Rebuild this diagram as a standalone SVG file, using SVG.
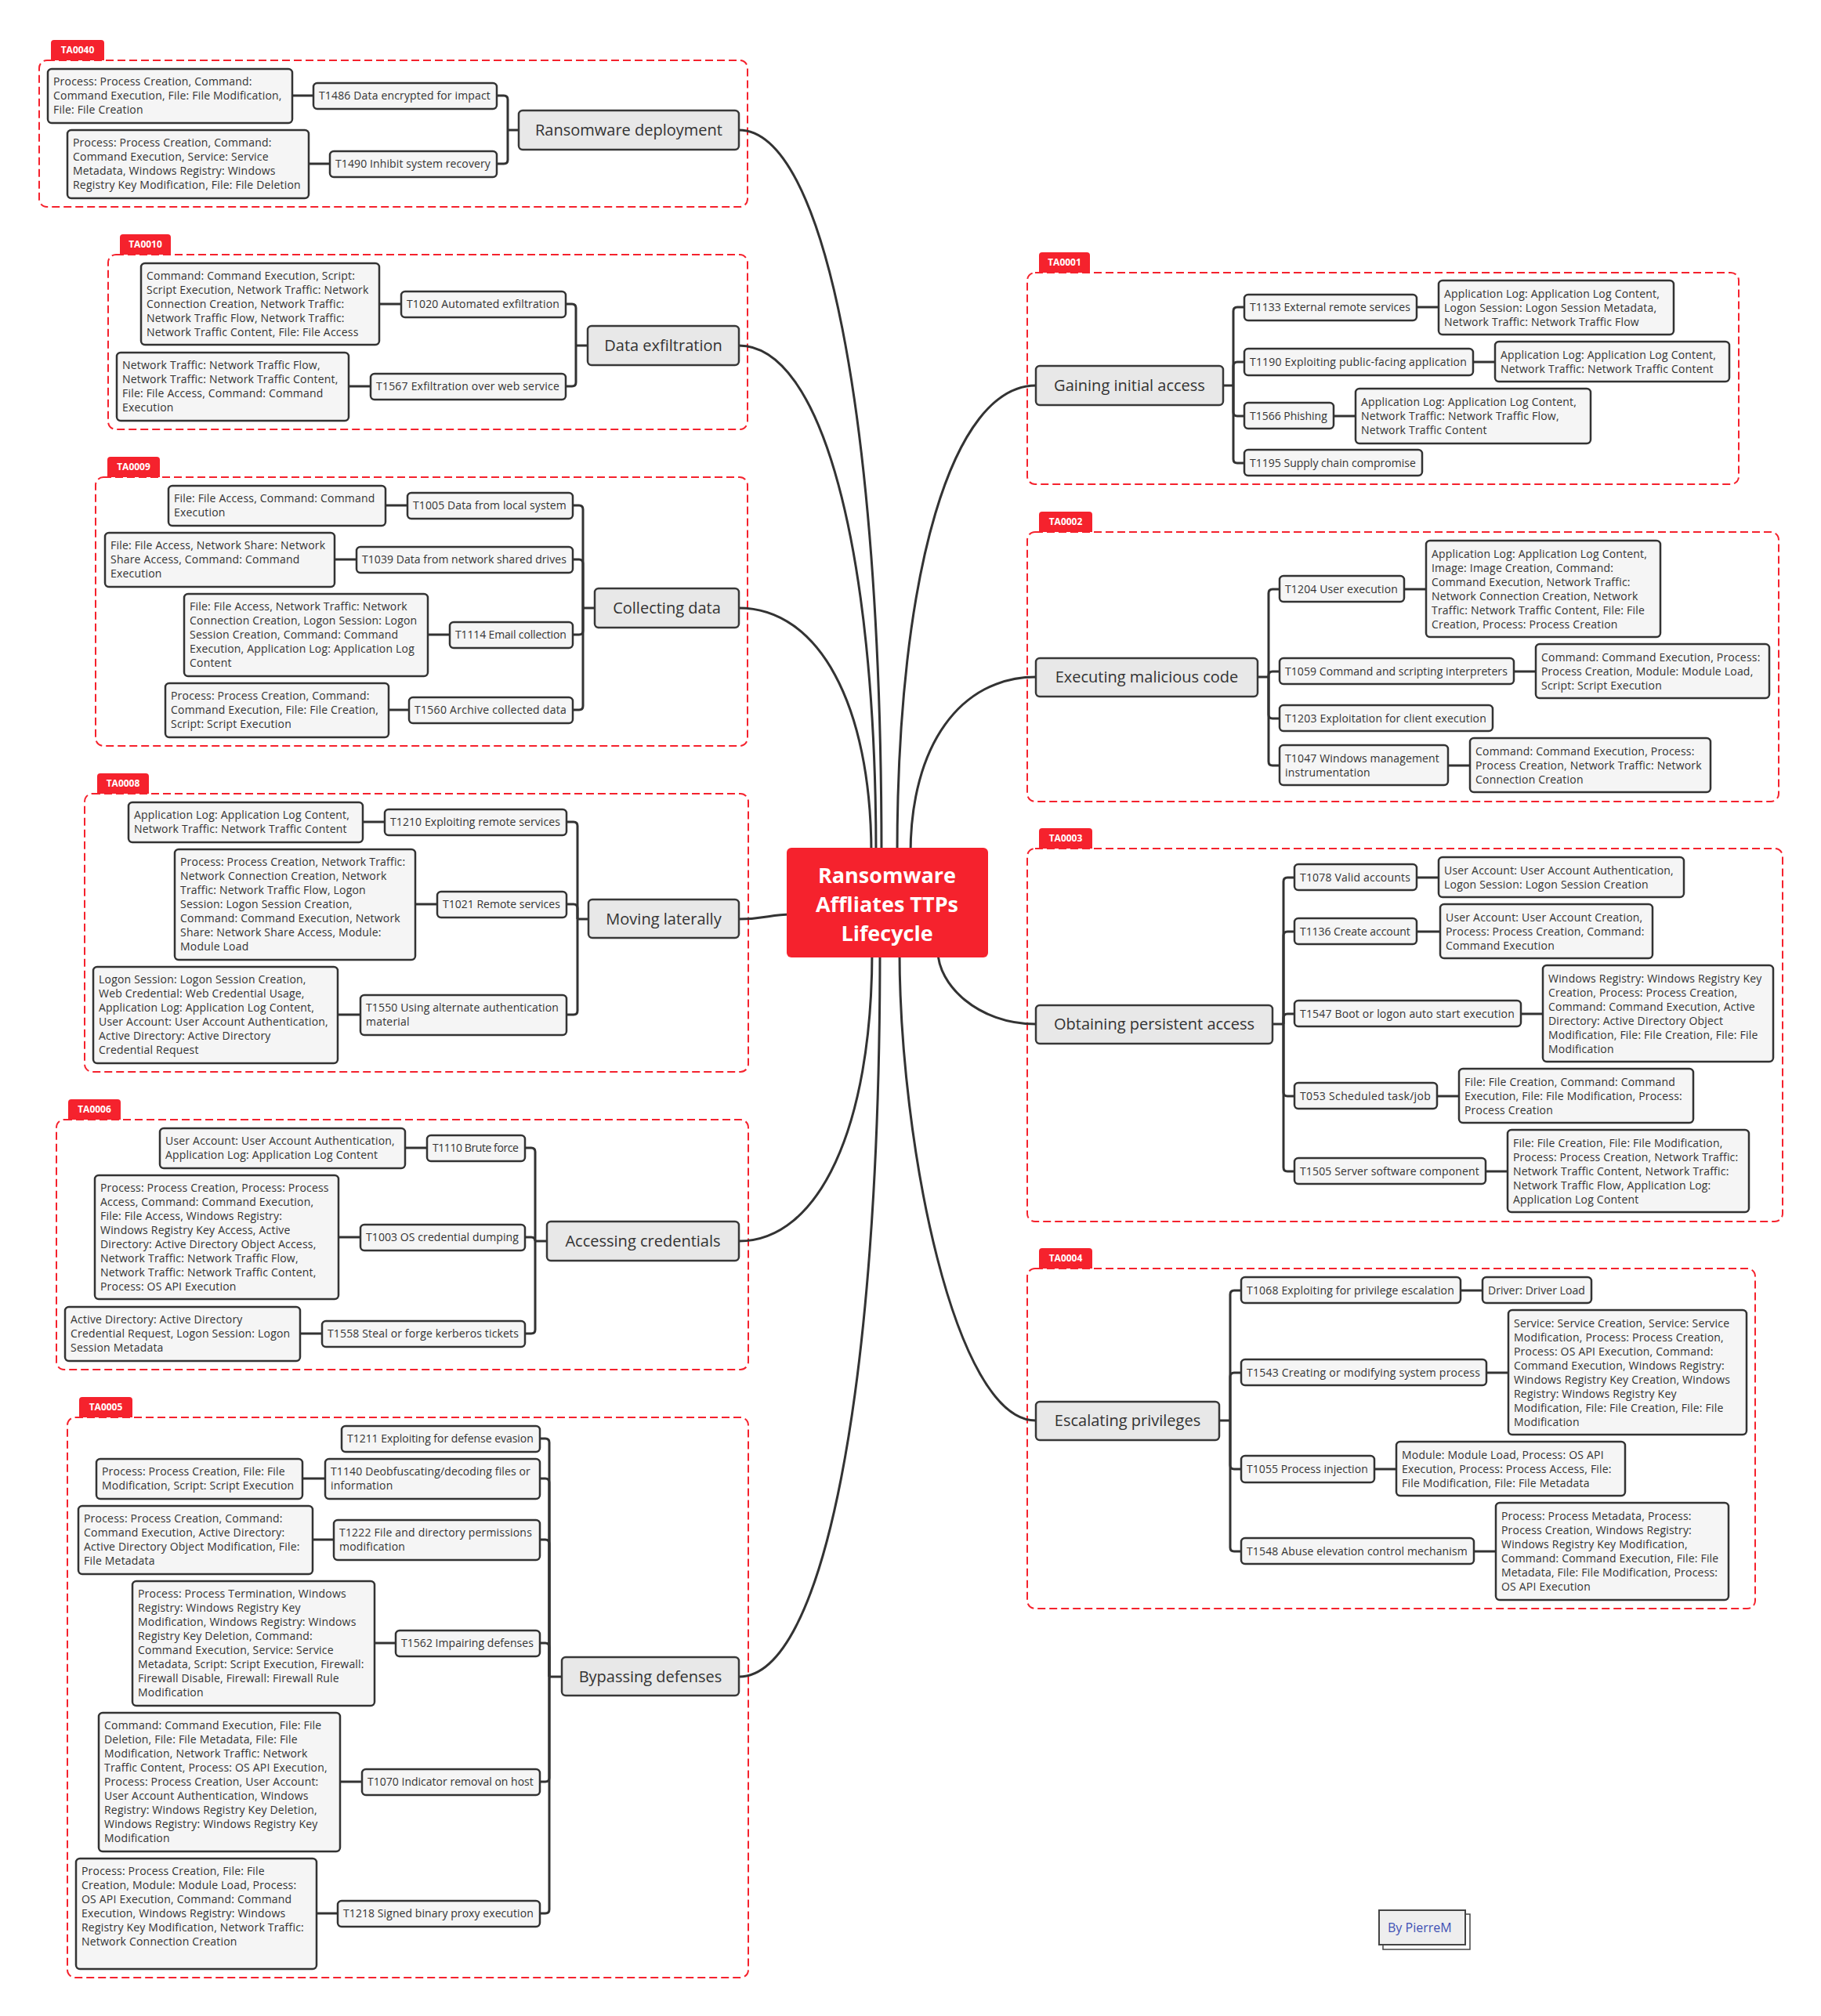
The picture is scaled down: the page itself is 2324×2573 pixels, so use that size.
<svg xmlns="http://www.w3.org/2000/svg" width="2324" height="2573" viewBox="0 0 2324 2573">
<style>
text{font-family:"Open Sans","Liberation Sans",sans-serif;fill:#333}
.frame{fill:none;stroke:#F5222D;stroke-width:2;stroke-dasharray:10 5}
.tag path{fill:#F5222D}
.tag text{font-size:12px;font-weight:700;fill:#fff;text-anchor:middle}
.topic rect{fill:#E8E8E8;stroke:#383838;stroke-width:2.5}
.topic text{font-size:20px;text-anchor:middle}
.box rect{fill:#F5F5F5;stroke:#333;stroke-width:2.5}
.box text{font-size:14px;letter-spacing:0.2px}
#connectors path{fill:none;stroke:#333;stroke-width:3}
#center rect{fill:#F5222D}
#center text{font-size:27px;font-weight:700;fill:#fff;text-anchor:middle}
</style>
<rect width="2324" height="2573" fill="#fff"/>

<g id="frames">
<rect class="frame" x="50" y="77" width="904" height="187" rx="10"/>
<rect class="frame" x="138" y="325" width="816" height="223" rx="10"/>
<rect class="frame" x="122" y="609" width="832" height="343" rx="10"/>
<rect class="frame" x="108" y="1013" width="847" height="355" rx="10"/>
<rect class="frame" x="72" y="1429" width="883" height="319" rx="10"/>
<rect class="frame" x="86" y="1809" width="869" height="715" rx="10"/>
<rect class="frame" x="1311" y="348" width="908" height="270" rx="10"/>
<rect class="frame" x="1311" y="679" width="959" height="344" rx="10"/>
<rect class="frame" x="1311" y="1083" width="964" height="476" rx="10"/>
<rect class="frame" x="1311" y="1619" width="929" height="434" rx="10"/>
</g>
<g id="tag-TA0040" class="tag"><path d="M65,77V55Q65,51 69,51H129Q133,51 133,55V77Z"/><text x="99" y="68">TA0040</text></g>
<g id="tag-TA0010" class="tag"><path d="M153,325V303Q153,299 157,299H214Q218,299 218,303V325Z"/><text x="185.5" y="316">TA0010</text></g>
<g id="tag-TA0009" class="tag"><path d="M137,609V587Q137,583 141,583H200Q204,583 204,587V609Z"/><text x="170.5" y="600">TA0009</text></g>
<g id="tag-TA0008" class="tag"><path d="M124,1013V991Q124,987 128,987H186Q190,987 190,991V1013Z"/><text x="157" y="1004">TA0008</text></g>
<g id="tag-TA0006" class="tag"><path d="M87,1429V1407Q87,1403 91,1403H150Q154,1403 154,1407V1429Z"/><text x="120.5" y="1420">TA0006</text></g>
<g id="tag-TA0005" class="tag"><path d="M101,1809V1787Q101,1783 105,1783H165Q169,1783 169,1787V1809Z"/><text x="135" y="1800">TA0005</text></g>
<g id="tag-TA0001" class="tag"><path d="M1326,348V326Q1326,322 1330,322H1387Q1391,322 1391,326V348Z"/><text x="1358.5" y="339">TA0001</text></g>
<g id="tag-TA0002" class="tag"><path d="M1326,679V657Q1326,653 1330,653H1390Q1394,653 1394,657V679Z"/><text x="1360" y="670">TA0002</text></g>
<g id="tag-TA0003" class="tag"><path d="M1326,1083V1061Q1326,1057 1330,1057H1390Q1394,1057 1394,1061V1083Z"/><text x="1360" y="1074">TA0003</text></g>
<g id="tag-TA0004" class="tag"><path d="M1326,1619V1597Q1326,1593 1330,1593H1390Q1394,1593 1394,1597V1619Z"/><text x="1360" y="1610">TA0004</text></g>

<g id="connectors">
<path d="M943,166C1052,166 1125,532 1125,1090"/>
<path d="M943,441C1048,441 1118,697 1118,1090"/>
<path d="M943,776C1044,776 1112,898 1112,1090"/>
<path d="M943,1173C978,1173 982,1167 1010,1167"/>
<path d="M943,1584C1045,1584 1113,1439 1113,1214"/>
<path d="M943,2140C1051,2140 1123,1773 1123,1214"/>
<path d="M1322,492C1216,492 1145,728 1145,1090"/>
<path d="M1322,864C1226,864 1162,951 1162,1090"/>
<path d="M1322,1307C1247,1307 1197,1256 1197,1214"/>
<path d="M1322,1813C1218,1813 1148,1458 1148,1214"/>
<path d="M634,122H643Q648,122 648,127V166"/>
<path d="M634,209H643Q648,209 648,204V166"/>
<path d="M648,166H662"/>
<path d="M373,122H400"/><path d="M394,209H421"/>
<path d="M722,388H730Q735,388 735,393V441"/>
<path d="M722,493H730Q735,493 735,488V441"/>
<path d="M735,441H750"/>
<path d="M484,388H512"/><path d="M445,493H473"/>
<path d="M731,645H739Q744,645 744,650V776"/>
<path d="M731,714H739Q744,714 744,719V776"/>
<path d="M731,810H739Q744,810 744,805V776"/>
<path d="M731,906H739Q744,906 744,901V776"/>
<path d="M744,776H759"/>
<path d="M492,645H520"/><path d="M427,714H455"/><path d="M546,810H574"/><path d="M496,906H522"/>
<path d="M723,1049H732Q737,1049 737,1054V1173"/>
<path d="M723,1154H732Q737,1154 737,1159V1173"/>
<path d="M723,1295H732Q737,1295 737,1290V1173"/>
<path d="M737,1173H751"/>
<path d="M463,1049H491"/><path d="M530,1154H558"/><path d="M431,1295H460"/>
<path d="M670,1465H678Q683,1465 683,1470V1584"/>
<path d="M670,1579H678Q683,1579 683,1584"/>
<path d="M670,1702H678Q683,1702 683,1697V1584"/>
<path d="M683,1584H698"/>
<path d="M517,1465H545"/><path d="M432,1579H460"/><path d="M383,1702H411"/>
<path d="M689,1836H696Q701,1836 701,1841V2140"/>
<path d="M689,1887H696Q701,1887 701,1892V2140"/>
<path d="M689,1965H696Q701,1965 701,1970V2140"/>
<path d="M689,2097H696Q701,2097 701,2102V2140"/>
<path d="M689,2274H696Q701,2274 701,2269V2140"/>
<path d="M689,2442H696Q701,2442 701,2437V2140"/>
<path d="M701,2140H717"/>
<path d="M386,1887H415"/><path d="M399,1965H426"/><path d="M478,2097H505"/><path d="M434,2274H462"/><path d="M404,2442H431"/>
<path d="M1561,492H1574"/>
<path d="M1588,392H1579Q1574,392 1574,397V492"/>
<path d="M1588,462H1579Q1574,462 1574,467V492"/>
<path d="M1588,531H1579Q1574,531 1574,526V492"/>
<path d="M1588,591H1579Q1574,591 1574,586V492"/>
<path d="M1808,392H1836"/><path d="M1880,462H1908"/><path d="M1702,531H1730"/>
<path d="M1605,864H1619"/>
<path d="M1633,752H1624Q1619,752 1619,757V864"/>
<path d="M1633,857H1624Q1619,857 1619,862V864"/>
<path d="M1633,917H1624Q1619,917 1619,912V864"/>
<path d="M1633,977H1624Q1619,977 1619,972V864"/>
<path d="M1792,752H1820"/><path d="M1932,857H1960"/><path d="M1848,977H1876"/>
<path d="M1624,1307H1638"/>
<path d="M1652,1120H1643Q1638,1120 1638,1125V1307"/>
<path d="M1652,1189H1643Q1638,1189 1638,1194V1307"/>
<path d="M1652,1294H1643Q1638,1294 1638,1299V1307"/>
<path d="M1652,1399H1643Q1638,1399 1638,1394V1307"/>
<path d="M1652,1495H1643Q1638,1495 1638,1490V1307"/>
<path d="M1808,1120H1836"/><path d="M1808,1189H1838"/><path d="M1941,1294H1969"/><path d="M1834,1399H1862"/><path d="M1896,1495H1924"/>
<path d="M1556,1813H1570"/>
<path d="M1584,1647H1575Q1570,1647 1570,1652V1813"/>
<path d="M1584,1752H1575Q1570,1752 1570,1757V1813"/>
<path d="M1584,1875H1575Q1570,1875 1570,1870V1813"/>
<path d="M1584,1980H1575Q1570,1980 1570,1975V1813"/>
<path d="M1864,1647H1892"/><path d="M1897,1752H1925"/><path d="M1754,1875H1782"/><path d="M1881,1980H1909"/>
</g>

<g id="center"><rect x="1004" y="1082" width="257" height="140" rx="6"/>
<text x="1132" y="1127">Ransomware</text><text x="1132" y="1164">Affliates TTPs</text><text x="1132" y="1201">Lifecycle</text></g>

<g id="topic-ransomware" class="topic"><rect x="662" y="141" width="281" height="50" rx="5"/><text x="802.5" y="173">Ransomware deployment</text></g>
<g id="topic-exfiltration" class="topic"><rect x="750" y="416" width="193" height="50" rx="5"/><text x="846.5" y="448">Data exfiltration</text></g>
<g id="topic-collecting" class="topic"><rect x="759" y="751" width="184" height="50" rx="5"/><text x="851" y="783">Collecting data</text></g>
<g id="topic-lateral" class="topic"><rect x="751" y="1148" width="192" height="49" rx="5"/><text x="847" y="1180">Moving laterally</text></g>
<g id="topic-credentials" class="topic"><rect x="698" y="1559" width="245" height="50" rx="5"/><text x="820.5" y="1591">Accessing credentials</text></g>
<g id="topic-defenses" class="topic"><rect x="717" y="2115" width="226" height="49" rx="5"/><text x="830" y="2147">Bypassing defenses</text></g>
<g id="topic-initial" class="topic"><rect x="1322" y="467" width="239" height="50" rx="5"/><text x="1441.5" y="499">Gaining initial access</text></g>
<g id="topic-executing" class="topic"><rect x="1322" y="840" width="283" height="49" rx="5"/><text x="1463.5" y="871">Executing malicious code</text></g>
<g id="topic-persistent" class="topic"><rect x="1322" y="1283" width="302" height="49" rx="5"/><text x="1473" y="1314">Obtaining persistent access</text></g>
<g id="topic-privileges" class="topic"><rect x="1322" y="1789" width="234" height="49" rx="5"/><text x="1439" y="1820">Escalating privileges</text></g>

<g id="t1486" class="box"><rect x="400" y="106" width="234" height="33" rx="5"/><text x="407" y="127" textLength="219">T1486 Data encrypted for impact</text></g>
<g id="d1486" class="box"><rect x="61" y="88" width="312" height="69" rx="5"/><text><tspan x="68" y="109">Process: Process Creation, Command:</tspan><tspan x="68" y="127">Command Execution, File: File Modification,</tspan><tspan x="68" y="145">File: File Creation</tspan></text></g>
<g id="t1490" class="box"><rect x="421" y="193" width="213" height="33" rx="5"/><text x="428" y="214" textLength="198">T1490 Inhibit system recovery</text></g>
<g id="d1490" class="box"><rect x="86" y="166" width="308" height="87" rx="5"/><text><tspan x="93" y="187">Process: Process Creation, Command:</tspan><tspan x="93" y="205">Command Execution, Service: Service</tspan><tspan x="93" y="223">Metadata, Windows Registry: Windows</tspan><tspan x="93" y="241">Registry Key Modification, File: File Deletion</tspan></text></g>

<g id="t1020" class="box"><rect x="512" y="372" width="210" height="33" rx="5"/><text x="519" y="393" textLength="195">T1020 Automated exfiltration</text></g>
<g id="d1020" class="box"><rect x="180" y="336" width="304" height="104" rx="5"/><text><tspan x="187" y="357">Command: Command Execution, Script:</tspan><tspan x="187" y="375">Script Execution, Network Traffic: Network</tspan><tspan x="187" y="393">Connection Creation, Network Traffic:</tspan><tspan x="187" y="411">Network Traffic Flow, Network Traffic:</tspan><tspan x="187" y="429">Network Traffic Content, File: File Access</tspan></text></g>
<g id="t1567" class="box"><rect x="473" y="477" width="249" height="33" rx="5"/><text x="480" y="498" textLength="234">T1567 Exfiltration over web service</text></g>
<g id="d1567" class="box"><rect x="149" y="450" width="296" height="87" rx="5"/><text><tspan x="156" y="471">Network Traffic: Network Traffic Flow,</tspan><tspan x="156" y="489">Network Traffic: Network Traffic Content,</tspan><tspan x="156" y="507">File: File Access, Command: Command</tspan><tspan x="156" y="525">Execution</tspan></text></g>

<g id="t1005" class="box"><rect x="520" y="629" width="211" height="33" rx="5"/><text x="527" y="650" textLength="196">T1005 Data from local system</text></g>
<g id="d1005" class="box"><rect x="215" y="620" width="277" height="51" rx="5"/><text><tspan x="222" y="641">File: File Access, Command: Command</tspan><tspan x="222" y="659">Execution</tspan></text></g>
<g id="t1039" class="box"><rect x="455" y="698" width="276" height="33" rx="5"/><text x="462" y="719" textLength="261">T1039 Data from network shared drives</text></g>
<g id="d1039" class="box"><rect x="134" y="680" width="293" height="69" rx="5"/><text><tspan x="141" y="701">File: File Access, Network Share: Network</tspan><tspan x="141" y="719">Share Access, Command: Command</tspan><tspan x="141" y="737">Execution</tspan></text></g>
<g id="t1114" class="box"><rect x="574" y="794" width="157" height="33" rx="5"/><text x="581" y="815" textLength="142">T1114 Email collection</text></g>
<g id="d1114" class="box"><rect x="235" y="758" width="311" height="105" rx="5"/><text><tspan x="242" y="779">File: File Access, Network Traffic: Network</tspan><tspan x="242" y="797">Connection Creation, Logon Session: Logon</tspan><tspan x="242" y="815">Session Creation, Command: Command</tspan><tspan x="242" y="833">Execution, Application Log: Application Log</tspan><tspan x="242" y="851">Content</tspan></text></g>
<g id="t1560" class="box"><rect x="522" y="890" width="209" height="33" rx="5"/><text x="529" y="911" textLength="194">T1560 Archive collected data</text></g>
<g id="d1560" class="box"><rect x="211" y="872" width="285" height="69" rx="5"/><text><tspan x="218" y="893">Process: Process Creation, Command:</tspan><tspan x="218" y="911">Command Execution, File: File Creation,</tspan><tspan x="218" y="929">Script: Script Execution</tspan></text></g>

<g id="t1210" class="box"><rect x="491" y="1033" width="232" height="33" rx="5"/><text x="498" y="1054" textLength="217">T1210 Exploiting remote services</text></g>
<g id="d1210" class="box"><rect x="164" y="1024" width="299" height="51" rx="5"/><text><tspan x="171" y="1045">Application Log: Application Log Content,</tspan><tspan x="171" y="1063">Network Traffic: Network Traffic Content</tspan></text></g>
<g id="t1021" class="box"><rect x="558" y="1138" width="165" height="33" rx="5"/><text x="565" y="1159" textLength="150">T1021 Remote services</text></g>
<g id="d1021" class="box"><rect x="223" y="1084" width="307" height="141" rx="5"/><text><tspan x="230" y="1105">Process: Process Creation, Network Traffic:</tspan><tspan x="230" y="1123">Network Connection Creation, Network</tspan><tspan x="230" y="1141">Traffic: Network Traffic Flow, Logon</tspan><tspan x="230" y="1159">Session: Logon Session Creation,</tspan><tspan x="230" y="1177">Command: Command Execution, Network</tspan><tspan x="230" y="1195">Share: Network Share Access, Module:</tspan><tspan x="230" y="1213">Module Load</tspan></text></g>
<g id="t1550" class="box"><rect x="460" y="1270" width="263" height="51" rx="5"/><text x="467" y="1291" textLength="246">T1550 Using alternate authentication</text><text x="467" y="1309">material</text></g>
<g id="d1550" class="box"><rect x="119" y="1234" width="312" height="123" rx="5"/><text><tspan x="126" y="1255">Logon Session: Logon Session Creation,</tspan><tspan x="126" y="1273">Web Credential: Web Credential Usage,</tspan><tspan x="126" y="1291">Application Log: Application Log Content,</tspan><tspan x="126" y="1309">User Account: User Account Authentication,</tspan><tspan x="126" y="1327">Active Directory: Active Directory</tspan><tspan x="126" y="1345">Credential Request</tspan></text></g>

<g id="t1110" class="box"><rect x="545" y="1449" width="125" height="33" rx="5"/><text x="552" y="1470" textLength="110">T1110 Brute force</text></g>
<g id="d1110" class="box"><rect x="204" y="1440" width="313" height="51" rx="5"/><text><tspan x="211" y="1461">User Account: User Account Authentication,</tspan><tspan x="211" y="1479">Application Log: Application Log Content</tspan></text></g>
<g id="t1003" class="box"><rect x="460" y="1563" width="210" height="33" rx="5"/><text x="467" y="1584" textLength="195">T1003 OS credential dumping</text></g>
<g id="d1003" class="box"><rect x="121" y="1500" width="311" height="158" rx="5"/><text><tspan x="128" y="1521">Process: Process Creation, Process: Process</tspan><tspan x="128" y="1539">Access, Command: Command Execution,</tspan><tspan x="128" y="1557">File: File Access, Windows Registry:</tspan><tspan x="128" y="1575">Windows Registry Key Access, Active</tspan><tspan x="128" y="1593">Directory: Active Directory Object Access,</tspan><tspan x="128" y="1611">Network Traffic: Network Traffic Flow,</tspan><tspan x="128" y="1629">Network Traffic: Network Traffic Content,</tspan><tspan x="128" y="1647">Process: OS API Execution</tspan></text></g>
<g id="t1558" class="box"><rect x="411" y="1686" width="259" height="33" rx="5"/><text x="418" y="1707" textLength="244">T1558 Steal or forge kerberos tickets</text></g>
<g id="d1558" class="box"><rect x="83" y="1668" width="300" height="69" rx="5"/><text><tspan x="90" y="1689">Active Directory: Active Directory</tspan><tspan x="90" y="1707">Credential Request, Logon Session: Logon</tspan><tspan x="90" y="1725">Session Metadata</tspan></text></g>

<g id="t1211" class="box"><rect x="436" y="1820" width="253" height="33" rx="5"/><text x="443" y="1841" textLength="238">T1211 Exploiting for defense evasion</text></g>
<g id="t1140" class="box"><rect x="415" y="1862" width="274" height="51" rx="5"/><text x="422" y="1883" textLength="255">T1140 Deobfuscating/decoding files or</text><text x="422" y="1901">information</text></g>
<g id="d1140" class="box"><rect x="123" y="1862" width="263" height="51" rx="5"/><text><tspan x="130" y="1883">Process: Process Creation, File: File</tspan><tspan x="130" y="1901">Modification, Script: Script Execution</tspan></text></g>
<g id="t1222" class="box"><rect x="426" y="1940" width="263" height="51" rx="5"/><text x="433" y="1961" textLength="246">T1222 File and directory permissions</text><text x="433" y="1979">modification</text></g>
<g id="d1222" class="box"><rect x="100" y="1922" width="299" height="87" rx="5"/><text><tspan x="107" y="1943">Process: Process Creation, Command:</tspan><tspan x="107" y="1961">Command Execution, Active Directory:</tspan><tspan x="107" y="1979">Active Directory Object Modification, File:</tspan><tspan x="107" y="1997">File Metadata</tspan></text></g>
<g id="t1562" class="box"><rect x="505" y="2081" width="184" height="33" rx="5"/><text x="512" y="2102" textLength="169">T1562 Impairing defenses</text></g>
<g id="d1562" class="box"><rect x="169" y="2018" width="309" height="159" rx="5"/><text><tspan x="176" y="2039">Process: Process Termination, Windows</tspan><tspan x="176" y="2057">Registry: Windows Registry Key</tspan><tspan x="176" y="2075">Modification, Windows Registry: Windows</tspan><tspan x="176" y="2093">Registry Key Deletion, Command:</tspan><tspan x="176" y="2111">Command Execution, Service: Service</tspan><tspan x="176" y="2129">Metadata, Script: Script Execution, Firewall:</tspan><tspan x="176" y="2147">Firewall Disable, Firewall: Firewall Rule</tspan><tspan x="176" y="2165">Modification</tspan></text></g>
<g id="t1070" class="box"><rect x="462" y="2258" width="227" height="33" rx="5"/><text x="469" y="2279" textLength="212">T1070 Indicator removal on host</text></g>
<g id="d1070" class="box"><rect x="126" y="2186" width="308" height="177" rx="5"/><text><tspan x="133" y="2207">Command: Command Execution, File: File</tspan><tspan x="133" y="2225">Deletion, File: File Metadata, File: File</tspan><tspan x="133" y="2243">Modification, Network Traffic: Network</tspan><tspan x="133" y="2261">Traffic Content, Process: OS API Execution,</tspan><tspan x="133" y="2279">Process: Process Creation, User Account:</tspan><tspan x="133" y="2297">User Account Authentication, Windows</tspan><tspan x="133" y="2315">Registry: Windows Registry Key Deletion,</tspan><tspan x="133" y="2333">Windows Registry: Windows Registry Key</tspan><tspan x="133" y="2351">Modification</tspan></text></g>
<g id="t1218" class="box"><rect x="431" y="2426" width="258" height="33" rx="5"/><text x="438" y="2447" textLength="243">T1218 Signed binary proxy execution</text></g>
<g id="d1218" class="box"><rect x="97" y="2372" width="307" height="141" rx="5"/><text><tspan x="104" y="2393">Process: Process Creation, File: File</tspan><tspan x="104" y="2411">Creation, Module: Module Load, Process:</tspan><tspan x="104" y="2429">OS API Execution, Command: Command</tspan><tspan x="104" y="2447">Execution, Windows Registry: Windows</tspan><tspan x="104" y="2465">Registry Key Modification, Network Traffic:</tspan><tspan x="104" y="2483">Network Connection Creation</tspan></text></g>

<g id="t1133" class="box"><rect x="1588" y="376" width="220" height="33" rx="5"/><text x="1595" y="397" textLength="205">T1133 External remote services</text></g>
<g id="d1133" class="box"><rect x="1836" y="358" width="300" height="69" rx="5"/><text><tspan x="1843" y="380">Application Log: Application Log Content,</tspan><tspan x="1843" y="398">Logon Session: Logon Session Metadata,</tspan><tspan x="1843" y="416">Network Traffic: Network Traffic Flow</tspan></text></g>
<g id="t1190" class="box"><rect x="1588" y="445" width="292" height="34" rx="5"/><text x="1595" y="467" textLength="277">T1190 Exploiting public-facing application</text></g>
<g id="d1190" class="box"><rect x="1908" y="436" width="299" height="51" rx="5"/><text><tspan x="1915" y="458">Application Log: Application Log Content,</tspan><tspan x="1915" y="476">Network Traffic: Network Traffic Content</tspan></text></g>
<g id="t1566" class="box"><rect x="1588" y="514" width="114" height="33" rx="5"/><text x="1595" y="536" textLength="99">T1566 Phishing</text></g>
<g id="d1566" class="box"><rect x="1730" y="496" width="300" height="70" rx="5"/><text><tspan x="1737" y="518">Application Log: Application Log Content,</tspan><tspan x="1737" y="536">Network Traffic: Network Traffic Flow,</tspan><tspan x="1737" y="554">Network Traffic Content</tspan></text></g>
<g id="t1195" class="box"><rect x="1588" y="574" width="227" height="33" rx="5"/><text x="1595" y="596" textLength="212">T1195 Supply chain compromise</text></g>

<g id="t1204" class="box"><rect x="1633" y="735" width="159" height="33" rx="5"/><text x="1640" y="757" textLength="144">T1204 User execution</text></g>
<g id="d1204" class="box"><rect x="1820" y="690" width="299" height="123" rx="5"/><text><tspan x="1827" y="712">Application Log: Application Log Content,</tspan><tspan x="1827" y="730">Image: Image Creation, Command:</tspan><tspan x="1827" y="748">Command Execution, Network Traffic:</tspan><tspan x="1827" y="766">Network Connection Creation, Network</tspan><tspan x="1827" y="784">Traffic: Network Traffic Content, File: File</tspan><tspan x="1827" y="802">Creation, Process: Process Creation</tspan></text></g>
<g id="t1059" class="box"><rect x="1633" y="840" width="299" height="33" rx="5"/><text x="1640" y="862" textLength="284">T1059 Command and scripting interpreters</text></g>
<g id="d1059" class="box"><rect x="1960" y="822" width="298" height="69" rx="5"/><text><tspan x="1967" y="844">Command: Command Execution, Process:</tspan><tspan x="1967" y="862">Process Creation, Module: Module Load,</tspan><tspan x="1967" y="880">Script: Script Execution</tspan></text></g>
<g id="t1203" class="box"><rect x="1633" y="900" width="272" height="33" rx="5"/><text x="1640" y="922" textLength="257">T1203 Exploitation for client execution</text></g>
<g id="t1047" class="box"><rect x="1633" y="951" width="215" height="51" rx="5"/><text x="1640" y="973" textLength="197">T1047 Windows management</text><text x="1640" y="991">instrumentation</text></g>
<g id="d1047" class="box"><rect x="1876" y="942" width="307" height="69" rx="5"/><text><tspan x="1883" y="964">Command: Command Execution, Process:</tspan><tspan x="1883" y="982">Process Creation, Network Traffic: Network</tspan><tspan x="1883" y="1000">Connection Creation</tspan></text></g>

<g id="t1078" class="box"><rect x="1652" y="1103" width="156" height="33" rx="5"/><text x="1659" y="1125" textLength="141">T1078 Valid accounts</text></g>
<g id="d1078" class="box"><rect x="1836" y="1094" width="313" height="51" rx="5"/><text><tspan x="1843" y="1116">User Account: User Account Authentication,</tspan><tspan x="1843" y="1134">Logon Session: Logon Session Creation</tspan></text></g>
<g id="t1136" class="box"><rect x="1652" y="1172" width="156" height="33" rx="5"/><text x="1659" y="1194" textLength="141">T1136 Create account</text></g>
<g id="d1136" class="box"><rect x="1838" y="1154" width="271" height="69" rx="5"/><text><tspan x="1845" y="1176">User Account: User Account Creation,</tspan><tspan x="1845" y="1194">Process: Process Creation, Command:</tspan><tspan x="1845" y="1212">Command Execution</tspan></text></g>
<g id="t1547" class="box"><rect x="1652" y="1277" width="289" height="33" rx="5"/><text x="1659" y="1299" textLength="274">T1547 Boot or logon auto start execution</text></g>
<g id="d1547" class="box"><rect x="1969" y="1232" width="294" height="123" rx="5"/><text><tspan x="1976" y="1254">Windows Registry: Windows Registry Key</tspan><tspan x="1976" y="1272">Creation, Process: Process Creation,</tspan><tspan x="1976" y="1290">Command: Command Execution, Active</tspan><tspan x="1976" y="1308">Directory: Active Directory Object</tspan><tspan x="1976" y="1326">Modification, File: File Creation, File: File</tspan><tspan x="1976" y="1344">Modification</tspan></text></g>
<g id="t1053" class="box"><rect x="1652" y="1382" width="182" height="33" rx="5"/><text x="1659" y="1404" textLength="167">T053 Scheduled task/job</text></g>
<g id="d1053" class="box"><rect x="1862" y="1364" width="299" height="69" rx="5"/><text><tspan x="1869" y="1386">File: File Creation, Command: Command</tspan><tspan x="1869" y="1404">Execution, File: File Modification, Process:</tspan><tspan x="1869" y="1422">Process Creation</tspan></text></g>
<g id="t1505" class="box"><rect x="1652" y="1478" width="244" height="33" rx="5"/><text x="1659" y="1500" textLength="229">T1505 Server software component</text></g>
<g id="d1505" class="box"><rect x="1924" y="1442" width="308" height="105" rx="5"/><text><tspan x="1931" y="1464">File: File Creation, File: File Modification,</tspan><tspan x="1931" y="1482">Process: Process Creation, Network Traffic:</tspan><tspan x="1931" y="1500">Network Traffic Content, Network Traffic:</tspan><tspan x="1931" y="1518">Network Traffic Flow, Application Log:</tspan><tspan x="1931" y="1536">Application Log Content</tspan></text></g>

<g id="t1068" class="box"><rect x="1584" y="1630" width="280" height="33" rx="5"/><text x="1591" y="1652" textLength="265">T1068 Exploiting for privilege escalation</text></g>
<g id="d1068" class="box"><rect x="1892" y="1630" width="139" height="33" rx="5"/><text x="1899" y="1652" textLength="124">Driver: Driver Load</text></g>
<g id="t1543" class="box"><rect x="1584" y="1735" width="313" height="33" rx="5"/><text x="1591" y="1757" textLength="298">T1543 Creating or modifying system process</text></g>
<g id="d1543" class="box"><rect x="1925" y="1672" width="304" height="159" rx="5"/><text><tspan x="1932" y="1694">Service: Service Creation, Service: Service</tspan><tspan x="1932" y="1712">Modification, Process: Process Creation,</tspan><tspan x="1932" y="1730">Process: OS API Execution, Command:</tspan><tspan x="1932" y="1748">Command Execution, Windows Registry:</tspan><tspan x="1932" y="1766">Windows Registry Key Creation, Windows</tspan><tspan x="1932" y="1784">Registry: Windows Registry Key</tspan><tspan x="1932" y="1802">Modification, File: File Creation, File: File</tspan><tspan x="1932" y="1820">Modification</tspan></text></g>
<g id="t1055" class="box"><rect x="1584" y="1858" width="170" height="34" rx="5"/><text x="1591" y="1880" textLength="155">T1055 Process injection</text></g>
<g id="d1055" class="box"><rect x="1782" y="1840" width="292" height="69" rx="5"/><text><tspan x="1789" y="1862">Module: Module Load, Process: OS API</tspan><tspan x="1789" y="1880">Execution, Process: Process Access, File:</tspan><tspan x="1789" y="1898">File Modification, File: File Metadata</tspan></text></g>
<g id="t1548" class="box"><rect x="1584" y="1963" width="297" height="33" rx="5"/><text x="1591" y="1985" textLength="282">T1548 Abuse elevation control mechanism</text></g>
<g id="d1548" class="box"><rect x="1909" y="1918" width="297" height="124" rx="5"/><text><tspan x="1916" y="1940">Process: Process Metadata, Process:</tspan><tspan x="1916" y="1958">Process Creation, Windows Registry:</tspan><tspan x="1916" y="1976">Windows Registry Key Modification,</tspan><tspan x="1916" y="1994">Command: Command Execution, File: File</tspan><tspan x="1916" y="2012">Metadata, File: File Modification, Process:</tspan><tspan x="1916" y="2030">OS API Execution</tspan></text></g>

<g id="footer"><rect x="1765" y="2443" width="111" height="45" fill="#fff" stroke="#444" stroke-width="1.5"/><rect x="1760" y="2438" width="110" height="44" fill="#EEEEEE" stroke="#444" stroke-width="2"/><text x="1771" y="2466" font-size="16" style="fill:#3F51B5">By PierreM</text></g>
</svg>
